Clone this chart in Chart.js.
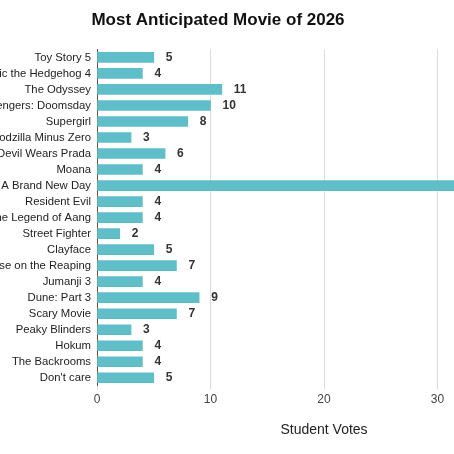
<!DOCTYPE html>
<html>
<head>
<meta charset="utf-8">
<script src="https://cdn.jsdelivr.net/npm/chart.js@4"></script>
<style>
  html, body { margin: 0; padding: 0; background: #fff; overflow: hidden; width: 454px; height: 454px; }
  #wrap { position: absolute; left: -115px; top: 0; width: 666px; height: 454px; }
</style>
</head>
<body>
<div id="wrap"><canvas id="c" width="666" height="454"></canvas></div>
<script>
const movies = [
  "Toy Story 5", "Sonic the Hedgehog 4", "The Odyssey", "Avengers: Doomsday", "Supergirl",
  "Godzilla Minus Zero", "The Devil Wears Prada", "Moana", "Spider-Man: A Brand New Day",
  "Resident Evil", "Avatar: The Legend of Aang", "Street Fighter", "Clayface",
  "Sunrise on the Reaping", "Jumanji 3", "Dune: Part 3", "Scary Movie", "Peaky Blinders",
  "Hokum", "The Backrooms", "Don't care"
];
const votes = [5, 4, 11, 10, 8, 3, 6, 4, 35, 4, 4, 2, 5, 7, 4, 9, 7, 3, 4, 4, 5];
const xTicks = [0, 10, 20, 30, 40];

const FONT = "'Liberation Sans', Arial, sans-serif";

const valueLabels = {
  id: 'valueLabels',
  afterDatasetsDraw(chart) {
    const ctx = chart.ctx;
    const meta = chart.getDatasetMeta(0);
    ctx.save();
    ctx.font = "bold 12px " + FONT;
    ctx.fillStyle = '#333333';
    ctx.textAlign = 'left';
    ctx.textBaseline = 'middle';
    meta.data.forEach((bar, i) => {
      ctx.fillText(String(votes[i]), bar.x + 12, bar.y);
    });
    ctx.restore();
  }
};

new Chart(document.getElementById('c'), {
  type: 'bar',
  data: {
    labels: movies,
    datasets: [{
      data: votes,
      backgroundColor: '#5fbec7',
      borderWidth: 0,
      barThickness: 10
    }]
  },
  options: {
    indexAxis: 'y',
    responsive: false,
    animation: false,
    layout: { padding: { left: 0, right: 0, top: 0, bottom: 11 } },
    plugins: {
      legend: { display: false },
      tooltip: { enabled: false },
      title: {
        display: true,
        text: 'Most Anticipated Movie of 2026',
        color: '#111111',
        font: { family: FONT, size: 17, weight: 'bold' },
        padding: { top: 10, bottom: 19 }
      }
    },
    scales: {
      x: {
        min: 0,
        max: 40,
        afterBuildTicks(scale) { scale.ticks = xTicks.map(v => ({ value: v })); },
        afterFit(scale) { scale.paddingRight = 0; },
        grid: { color: '#dddddd', lineWidth: 1, tickLength: 4, drawTicks: true },
        border: { display: false },
        ticks: { color: '#444444', font: { family: FONT, size: 12 }, padding: 3 },
        title: {
          display: true,
          text: 'Student Votes',
          color: '#222222',
          font: { family: FONT, size: 14 },
          padding: { top: 12, bottom: 4 }
        }
      },
      y: {
        afterFit(scale) { scale.width = 212; },
        grid: { display: false, drawTicks: false },
        border: { display: true, color: '#555555', width: 1 },
        ticks: { color: '#222222', font: { family: FONT, size: 11.3 }, padding: 6, autoSkip: false }
      }
    }
  },
  plugins: [valueLabels]
});
</script>
</body>
</html>
